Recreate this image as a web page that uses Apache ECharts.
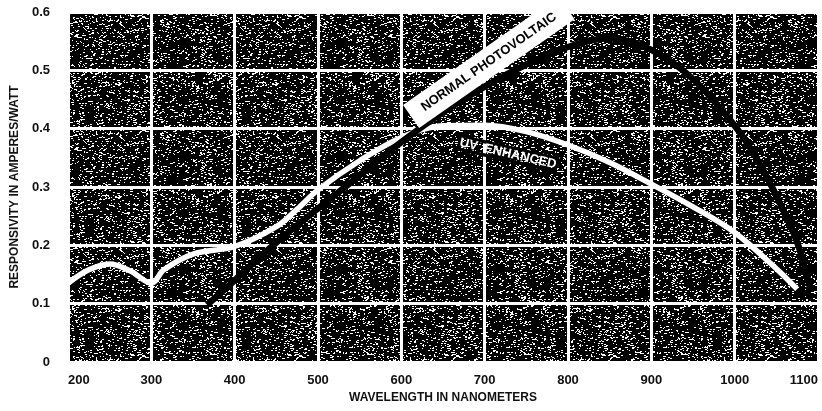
<!DOCTYPE html>
<html>
<head>
<meta charset="utf-8">
<script src="https://cdn.jsdelivr.net/npm/echarts@6/dist/echarts.min.js"></script>
<style>
html,body{margin:0;padding:0;background:#fff;}
#chart{width:822px;height:411px;}
</style>
</head>
<body>
<div id="chart"></div>
<script>
// ---- data ----
const xTicks = [200, 300, 400, 500, 600, 700, 800, 900, 1000, 1100];
const yTicks = [0, 0.1, 0.2, 0.3, 0.4, 0.5, 0.6];

const uvWavelengths = [200, 225, 250, 275, 300, 315, 350, 400, 450, 475, 500, 550, 600, 650, 700, 750, 800, 850, 900, 950, 1000, 1050, 1075];
const uvValues      = [0.135, 0.158, 0.168, 0.156, 0.135, 0.158, 0.185, 0.198, 0.232, 0.262, 0.295, 0.345, 0.385, 0.405, 0.406, 0.395, 0.372, 0.342, 0.305, 0.266, 0.222, 0.16, 0.125];

const npvWavelengths = [367, 400, 450, 500, 550, 600, 650, 700, 750, 800, 850, 900, 950, 1000, 1025, 1050, 1075, 1090];
const npvValues      = [0.098, 0.14, 0.205, 0.263, 0.32, 0.377, 0.428, 0.472, 0.51, 0.54, 0.555, 0.535, 0.485, 0.405, 0.352, 0.285, 0.205, 0.13];

const npvLabel = 'NORMAL PHOTOVOLTAIC';
const uvLabel = 'UV ENHANCED';

// annotation anchors (data coordinates)
const npvLabelAnchor = [705, 0.514];
const uvLabelAnchor = [728, 0.357];

// ---- decorative speckle texture for the plot background ----
function makeTexture(){
  const w = 157, h = 113;
  const c = document.createElement('canvas');
  c.width = w; c.height = h;
  const ctx = c.getContext('2d');
  ctx.fillStyle = '#000';
  ctx.fillRect(0,0,w,h);
  ctx.fillStyle = '#fff';
  function hash(x,y){
    const s = Math.sin(x*12.9898 + y*78.233)*43758.5453;
    return s - Math.floor(s);
  }
  for(let y=0;y<h;y++){
    for(let x=0;x<w;x++){
      const coarse = hash(Math.floor(x/14), Math.floor(y/9)+31);
      const v = hash(x,y);
      if(v < 0.05 + coarse*0.11){
        const len = 1 + Math.floor(hash(y+7,x+3)*2);
        ctx.fillRect(x,y,len,1);
      }
    }
  }
  return c;
}

const font = '"Liberation Sans", Arial, Helvetica, sans-serif';
const chart = echarts.init(document.getElementById('chart'), null, {renderer:'canvas'});

const option = {
  animation: false,
  backgroundColor: '#fff',
  grid: {
    left: 68, right: 4, top: 12, bottom: 49,
    show: true,
    borderWidth: 0,
    backgroundColor: {image: makeTexture(), repeat: 'repeat'}
  },
  xAxis: {
    type: 'value',
    min: xTicks[0], max: xTicks[xTicks.length-1], interval: 100,
    name: 'WAVELENGTH IN NANOMETERS',
    nameLocation: 'middle', nameGap: 28,
    nameTextStyle: {fontFamily: font, fontWeight: 'bold', fontSize: 12, color: '#111'},
    axisLine: {show: false}, axisTick: {show: false},
    axisLabel: {fontFamily: font, fontWeight: 'bold', fontSize: 13, color: '#111', margin: 12,
      alignMinLabel: 'left', alignMaxLabel: 'right', formatter: v => String(v)},
    splitLine: {show: true, lineStyle: {color: '#fff', width: 3}}
  },
  yAxis: {
    type: 'value',
    min: yTicks[0], max: yTicks[yTicks.length-1], interval: 0.1,
    name: 'RESPONSIVITY IN AMPERES/WATT',
    nameLocation: 'middle', nameGap: 40, nameRotate: 90,
    nameTextStyle: {fontFamily: font, fontWeight: 'bold', fontSize: 12, color: '#111'},
    axisLine: {show: false}, axisTick: {show: false},
    axisLabel: {fontFamily: font, fontWeight: 'bold', fontSize: 13, color: '#111', margin: 18,
      formatter: v => (v === 0 ? '0' : v.toFixed(1))},
    splitLine: {show: true, lineStyle: {color: '#fff', width: 3}}
  },
  series: [
    {
      name: uvLabel, type: 'line', smooth: 0.35, symbol: 'none',
      lineStyle: {color: '#fff', width: 5.5},
      data: uvWavelengths.map((x,i)=>[x, uvValues[i]]),
      z: 3
    },
    {
      name: npvLabel, type: 'line', smooth: 0.35, symbol: 'none',
      lineStyle: {color: '#000', width: 6.5},
      data: npvWavelengths.map((x,i)=>[x, npvValues[i]]),
      z: 4
    }
  ]
};
chart.setOption(option);

const p1 = chart.convertToPixel({gridIndex: 0}, npvLabelAnchor);
const p2 = chart.convertToPixel({gridIndex: 0}, uvLabelAnchor);
chart.setOption({
  graphic: [
    {
      type: 'text', x: p1[0], y: p1[1], rotation: 35*Math.PI/180, z: 100,
      style: {
        text: npvLabel, fill: '#000', font: 'bold 13px ' + font,
        align: 'center', verticalAlign: 'middle',
        backgroundColor: '#fff', padding: [8, 14, 7, 14]
      }
    },
    {
      type: 'text', x: p2[0], y: p2[1], rotation: -13*Math.PI/180, z: 100,
      style: {
        text: uvLabel.replace(' ', '\u00a0\u00a0'), fill: '#fff', font: 'bold 13px ' + font,
        align: 'center', verticalAlign: 'middle',
        textBorderColor: '#000', textBorderWidth: 3.5
      }
    }
  ]
});
</script>
</body>
</html>
